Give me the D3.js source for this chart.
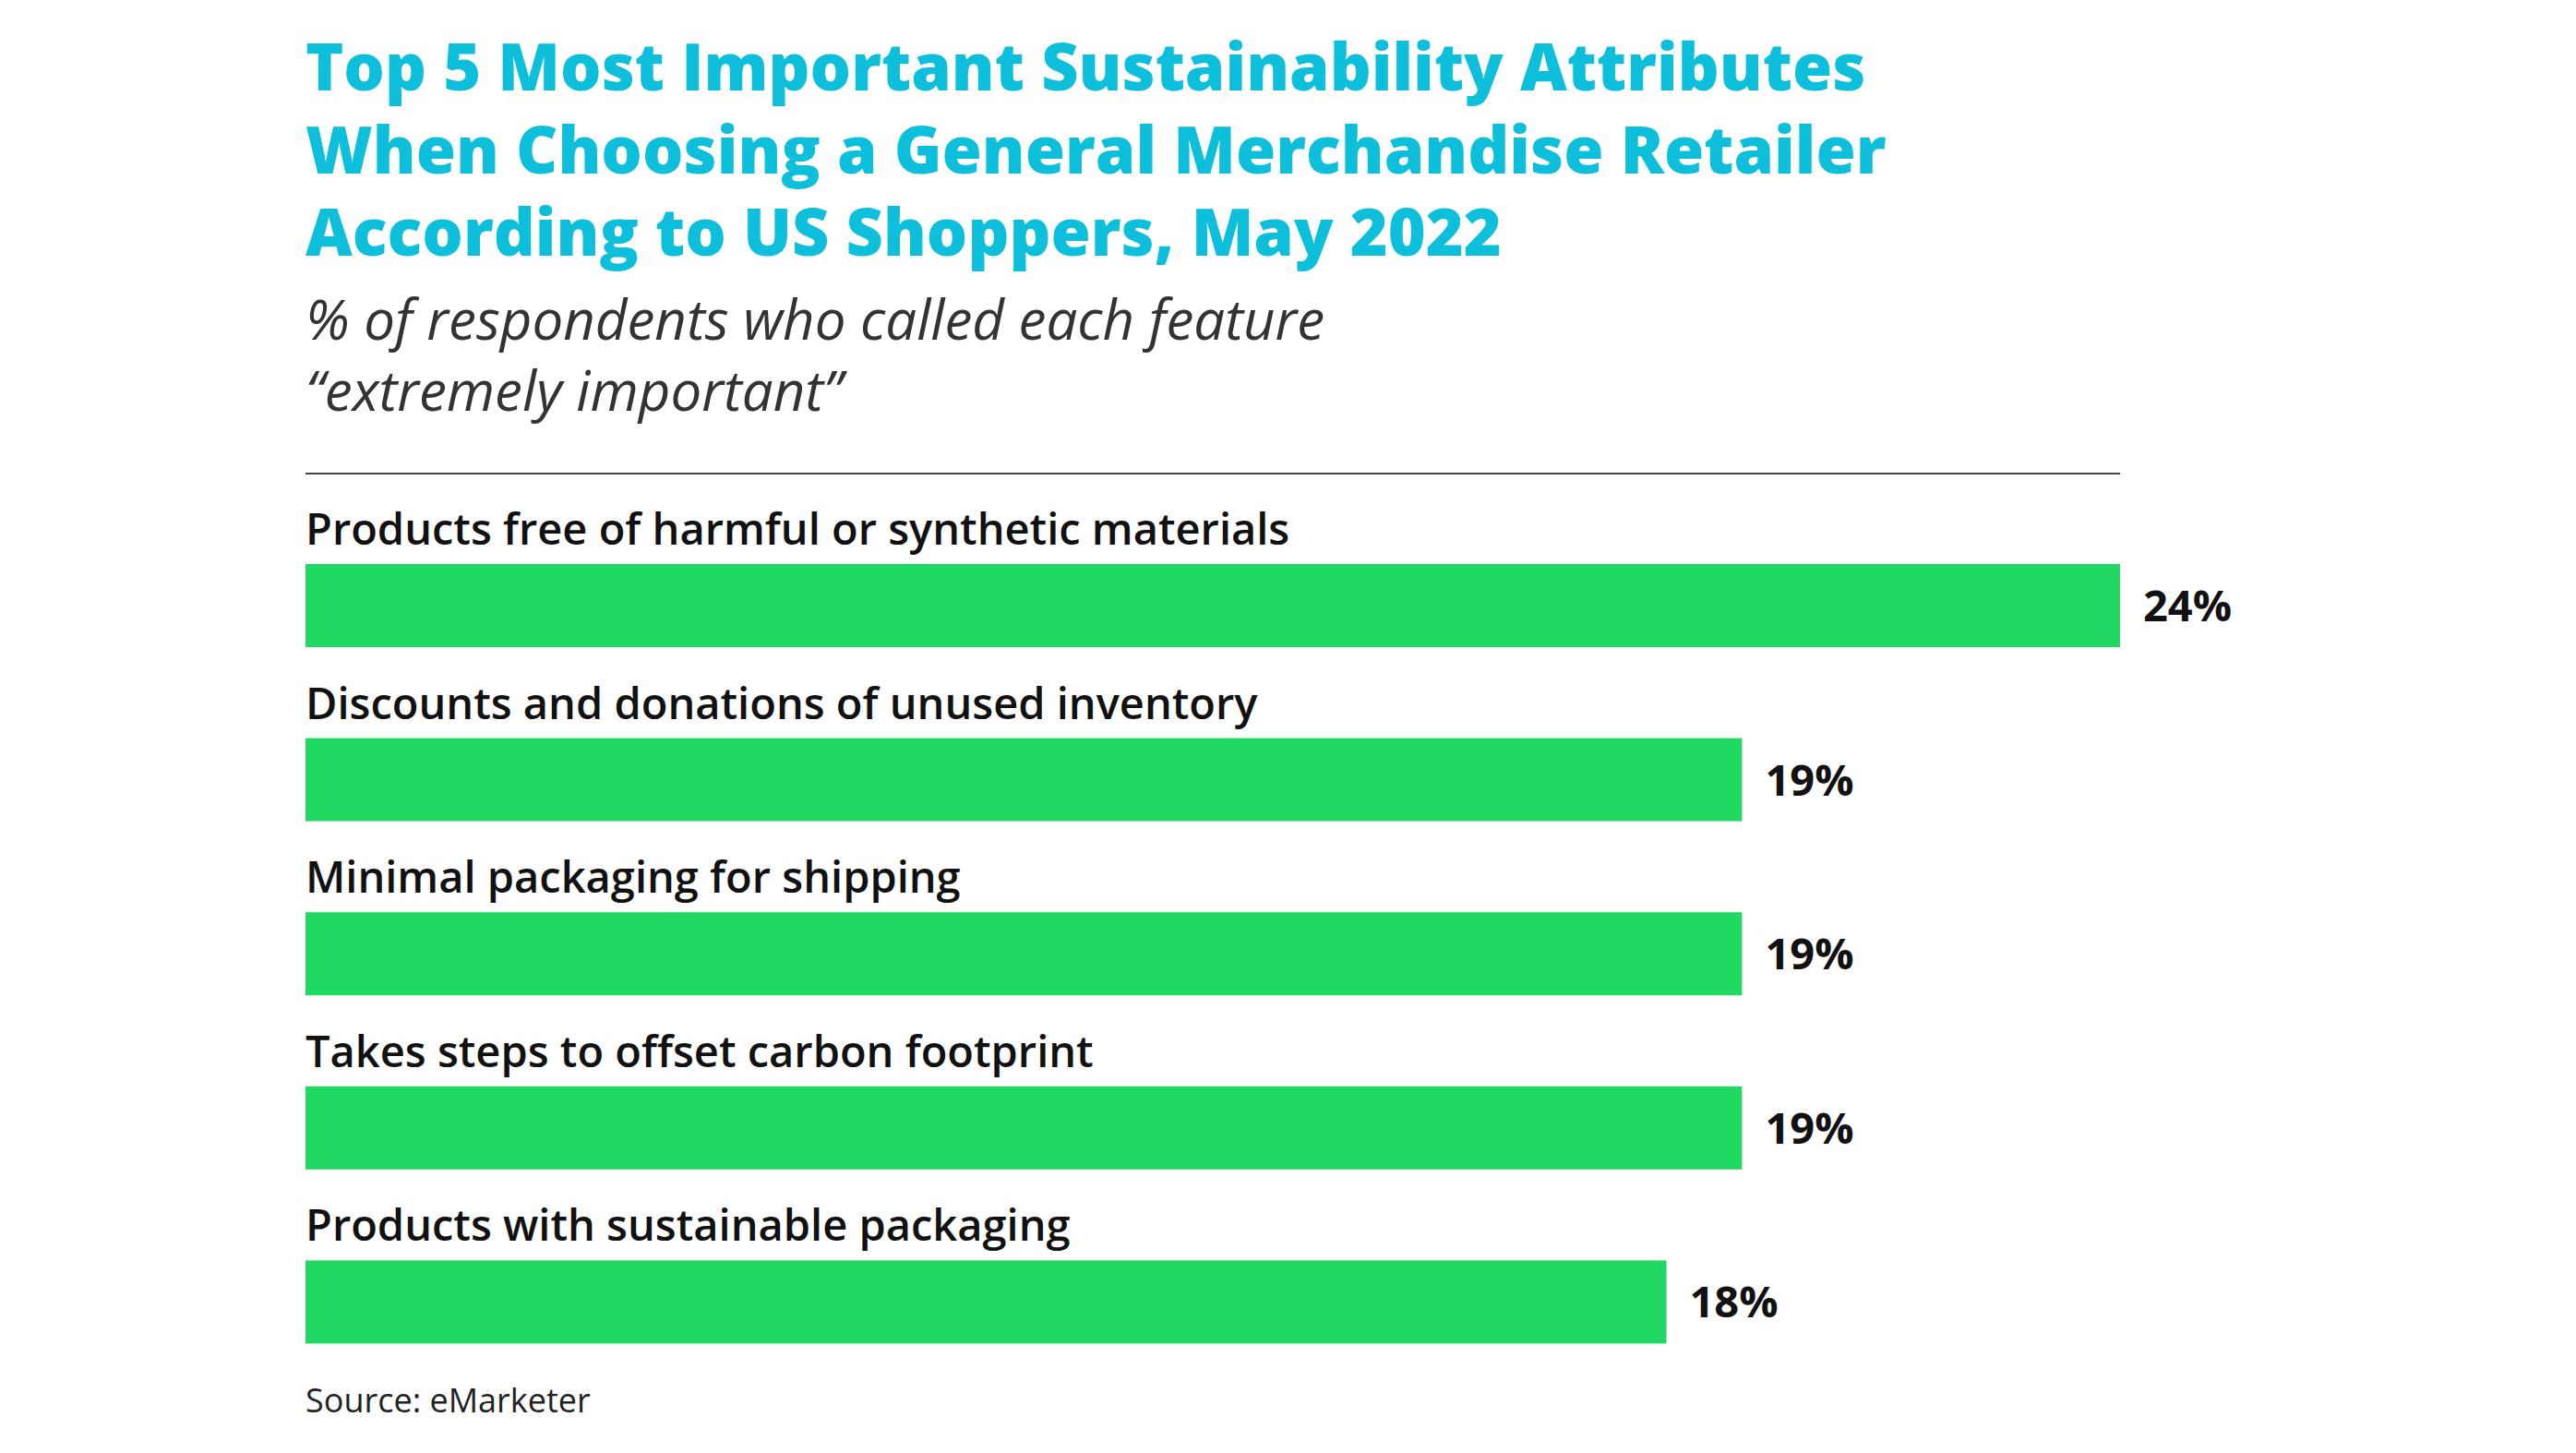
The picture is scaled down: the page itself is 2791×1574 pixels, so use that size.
<!DOCTYPE html>
<html><head><meta charset="utf-8">
<script src="https://cdn.jsdelivr.net/npm/d3@7"></script>
<style>body{margin:0;background:#fff}</style>
</head><body>
<svg id="chart" width="2791" height="1574"></svg>
<script>
// data
var categories = ["Products free of harmful or synthetic materials",
  "Discounts and donations of unused inventory",
  "Minimal packaging for shipping",
  "Takes steps to offset carbon footprint",
  "Products with sustainable packaging"];
var values = [24, 19, 19, 19, 18];
var titleLines = ["Top 5 Most Important Sustainability Attributes",
  "When Choosing a General Merchandise Retailer",
  "According to US Shoppers, May 2022"];
var subtitleLines = ["% of respondents who called each feature", "\u201cextremely important\u201d"];

var svg = d3.select("#chart");
var left = 331, right = 2297;
var font = "'Open Sans', Lato, sans-serif";

svg.selectAll(".title").data(titleLines).enter().append("text")
  .attr("x", left).attr("y", (d, i) => 98 + i * 89.5)
  .attr("font-family", font).attr("font-weight", 800).attr("font-size", 70)
  .attr("fill", "#0dbfdb").text(d => d);

svg.selectAll(".sub").data(subtitleLines).enter().append("text")
  .attr("x", left).attr("y", (d, i) => 368 + i * 77)
  .attr("font-family", font).attr("font-style", "italic").attr("font-size", 60)
  .attr("fill", "#333").text(d => d);

svg.append("line").attr("x1", left).attr("x2", right).attr("y1", 513).attr("y2", 513)
  .attr("stroke", "#444").attr("stroke-width", 2);

var x = d3.scaleLinear().domain([0, 24]).range([left, right]);
var y = d3.scaleBand().domain(categories).range([536, 1479]).paddingInner(0);

var g = svg.selectAll(".row").data(categories).enter().append("g")
  .attr("transform", d => `translate(0,${y(d)})`);

g.append("text").attr("x", left).attr("y", 54)
  .attr("font-family", font).attr("font-weight", 600).attr("font-size", 47)
  .attr("fill", "#111").text(d => d);

g.append("rect").attr("x", left).attr("y", 75).attr("height", 90)
  .attr("width", (d, i) => x(values[i]) - left).attr("fill", "#21d862");

g.append("text").attr("x", (d, i) => x(values[i]) + 25).attr("y", 137)
  .attr("font-family", font).attr("font-weight", 700).attr("font-size", 47)
  .attr("fill", "#111").text((d, i) => values[i] + "%");

svg.append("text").attr("x", left).attr("y", 1530)
  .attr("font-family", font).attr("font-size", 36).attr("fill", "#222")
  .text("Source: eMarketer");
</script>
</body></html>
